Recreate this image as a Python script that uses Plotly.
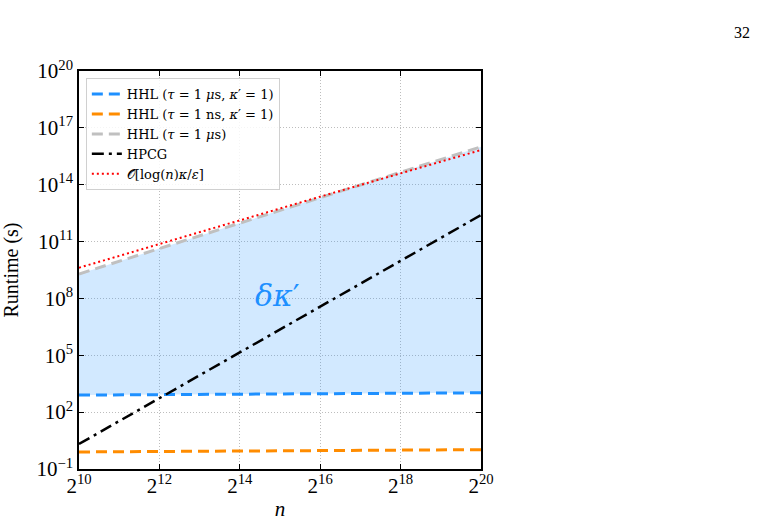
import plotly.graph_objects as go

# exponents of n (n = 2^k)
k_vals = [10, 12, 14, 16, 18, 20]
# log10 runtime (s)
hhl_us_k1 = [2.90, 2.93, 2.95, 2.97, 3.00, 3.02]
hhl_ns_k1 = [-0.10, -0.07, -0.05, -0.03, 0.00, 0.02]
hhl_us = [9.29, 10.63, 11.97, 13.31, 14.66, 16.00]
hpcg = [0.32, 2.74, 5.16, 7.57, 9.99, 12.40]
big_o = [9.62, 10.88, 12.13, 13.37, 14.60, 15.83]

x_tick_exp = [10, 12, 14, 16, 18, 20]
y_tick_exp = [-1, 2, 5, 8, 11, 14, 17, 20]

n = [2.0 ** k for k in k_vals]
def pw(a):
    return [10.0 ** v for v in a]

FONT = "Liberation Serif"
fig = go.Figure()

# fill region between HHL (1 us, k'=1) and HHL (1 us)
fig.add_trace(go.Scatter(x=n, y=pw(hhl_us_k1), mode="lines", line=dict(width=0),
                         showlegend=False, hoverinfo="skip"))
fig.add_trace(go.Scatter(x=n, y=pw(hhl_us), mode="lines", line=dict(width=0),
                         fill="tonexty", fillcolor="rgba(30,144,255,0.2)",
                         showlegend=False, hoverinfo="skip"))

fig.add_trace(go.Scatter(x=n, y=pw(hhl_us_k1), mode="lines",
                         name="HHL (<i>τ</i> = 1 <i>μ</i>s, <i>κ</i>′ = 1)",
                         line=dict(color="#1e90ff", width=3, dash="11px,6px")))
fig.add_trace(go.Scatter(x=n, y=pw(hhl_ns_k1), mode="lines",
                         name="HHL (<i>τ</i> = 1 ns, <i>κ</i>′ = 1)",
                         line=dict(color="#ff8c00", width=3, dash="11px,6px")))
fig.add_trace(go.Scatter(x=n, y=pw(hhl_us), mode="lines",
                         name="HHL (<i>τ</i> = 1 <i>μ</i>s)",
                         line=dict(color="#c0c0c0", width=3, dash="11px,6px")))
fig.add_trace(go.Scatter(x=n, y=pw(hpcg), mode="lines", name="HPCG",
                         line=dict(color="black", width=2.5, dash="12px,5px,3px,5px")))
fig.add_trace(go.Scatter(x=n, y=pw(big_o), mode="lines",
                         name="𝒪[log(<i>n</i>)<i>κ</i>/<i>ε</i>]",
                         line=dict(color="red", width=2, dash="2px,3px")))

axis_common = dict(showline=True, linecolor="black", linewidth=1.5, mirror="ticks",
                   ticks="inside", ticklen=5, tickcolor="black", tickwidth=1.2,
                   showgrid=True, gridcolor="#bdbdbd", griddash="1px,2px", gridwidth=1,
                   zeroline=False, automargin=False,
                   tickfont=dict(family=FONT, size=21, color="black"))

fig.update_xaxes(type="log", range=[10 * 0.30103, 20 * 0.30103],
                 tickvals=[2.0 ** e for e in x_tick_exp],
                 ticktext=[f"2<sup>{e}</sup>" for e in x_tick_exp],
                 ticklabelstandoff=-3,
                 title=dict(text="<i>n</i>", font=dict(family=FONT, size=21, color="black")),
                 **axis_common)
fig.update_yaxes(type="log", range=[-1, 20],
                 tickvals=[10.0 ** e for e in y_tick_exp],
                 ticktext=[f"10<sup>{str(e).replace('-', '−')}</sup>" for e in y_tick_exp],
                 title=dict(text="Runtime (s)", font=dict(family=FONT, size=20, color="black")),
                 **axis_common)

fig.add_annotation(x=14.93 * 0.30103, y=8.13, xref="x", yref="y",
                   text="<i>δκ</i>′", showarrow=False,
                   font=dict(family="DejaVu Serif", size=30, color="#1e90ff"))
fig.add_annotation(x=(752 - 79) / 402, y=(469 - 33) / 398, xref="paper", yref="paper",
                   xanchor="right", yanchor="middle", showarrow=False, text="32",
                   font=dict(family=FONT, size=16, color="black"))

fig.update_layout(
    width=764, height=521,
    margin=dict(l=79, r=283, t=71, b=52, autoexpand=False),
    paper_bgcolor="white", plot_bgcolor="white",
    font=dict(family=FONT, color="black"),
    legend=dict(x=0.017, y=0.982, xanchor="left", yanchor="top",
                bgcolor="rgba(255,255,255,0.85)", bordercolor="#d0d0d0", borderwidth=1,
                font=dict(family="DejaVu Serif", size=13, color="black"),
                traceorder="normal", tracegroupgap=0, itemwidth=30),
)
fig.write_html("out.html")
